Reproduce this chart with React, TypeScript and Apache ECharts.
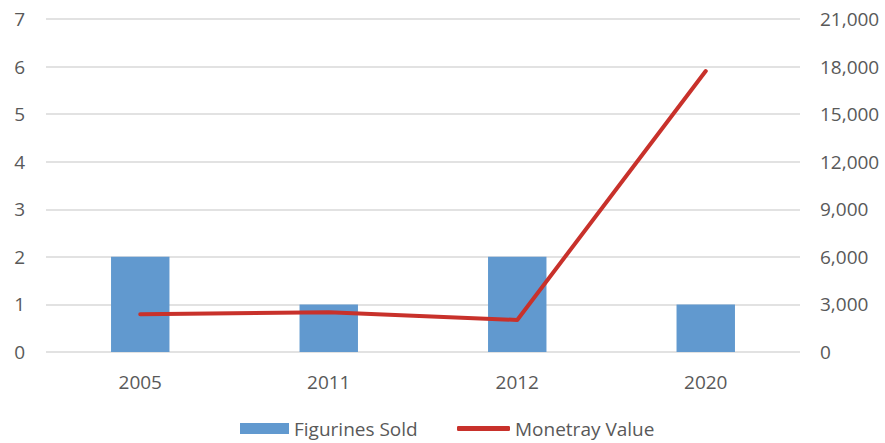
import React, { useEffect, useRef } from "react";
import * as echarts from "echarts";

const categories = ["2005", "2011", "2012", "2020"];
const figurinesSold = [2, 1, 2, 1];
const monetaryValue = [2380, 2500, 2020, 17720];
const leftTicks = { min: 0, max: 7, interval: 1 };
const rightTicks = { min: 0, max: 21000, interval: 3000 };

const FONT = "'Open Sans', 'Noto Sans', sans-serif";
const TEXT = "#595959";
const BAR = "#6199cf";
const LINE = "#c8312b";

export default function App() {
  const ref = useRef<HTMLDivElement>(null);
  useEffect(() => {
    const chart = echarts.init(ref.current!, null, { renderer: "svg" });
    const legendText = { fontSize: 19, color: TEXT, fontFamily: FONT };
    chart.setOption({
      animation: false,
      backgroundColor: "#ffffff",
      textStyle: { fontFamily: FONT },
      grid: { left: 46, right: 85, top: 19, bottom: 91, containLabel: false },
      legend: [
        {
          left: 240,
          top: 419,
          padding: 0,
          itemWidth: 49,
          itemHeight: 11,
          itemGap: 5,
          textStyle: legendText,
          data: [{ name: "Figurines Sold", icon: "rect" }],
        },
        {
          left: 457,
          top: 419,
          padding: 0,
          itemWidth: 53,
          itemHeight: 5,
          textStyle: legendText,
          data: [{ name: "Monetray Value", icon: "roundRect" }],
        },
      ],
      xAxis: {
        type: "category",
        data: categories,
        axisLine: { show: false },
        axisTick: { show: false },
        axisLabel: { fontSize: 19, color: TEXT, margin: 20, fontFamily: FONT },
      },
      yAxis: [
        {
          type: "value",
          ...leftTicks,
          axisLine: { show: false },
          axisTick: { show: false },
          splitLine: { lineStyle: { color: "#d9d9d9", width: 1.5 } },
          axisLabel: { fontSize: 19, color: TEXT, margin: 21, fontFamily: FONT },
        },
        {
          type: "value",
          ...rightTicks,
          axisLine: { show: false },
          axisTick: { show: false },
          splitLine: { show: false },
          axisLabel: {
            fontSize: 19,
            color: TEXT,
            margin: 20,
            fontFamily: FONT,
            formatter: (v: number) => v.toLocaleString("en-US"),
          },
        },
      ],
      series: [
        {
          name: "Figurines Sold",
          type: "bar",
          data: figurinesSold,
          barWidth: "31%",
          itemStyle: { color: BAR },
        },
        {
          name: "Monetray Value",
          type: "line",
          yAxisIndex: 1,
          data: monetaryValue,
          symbol: "none",
          lineStyle: { color: LINE, width: 4, cap: "round", join: "round" },
          itemStyle: { color: LINE },
        },
      ],
    });
    return () => chart.dispose();
  }, []);
  return (
    <div
      ref={ref}
      style={{ position: "fixed", left: 0, top: 0, width: 885, height: 443 }}
    />
  );
}
